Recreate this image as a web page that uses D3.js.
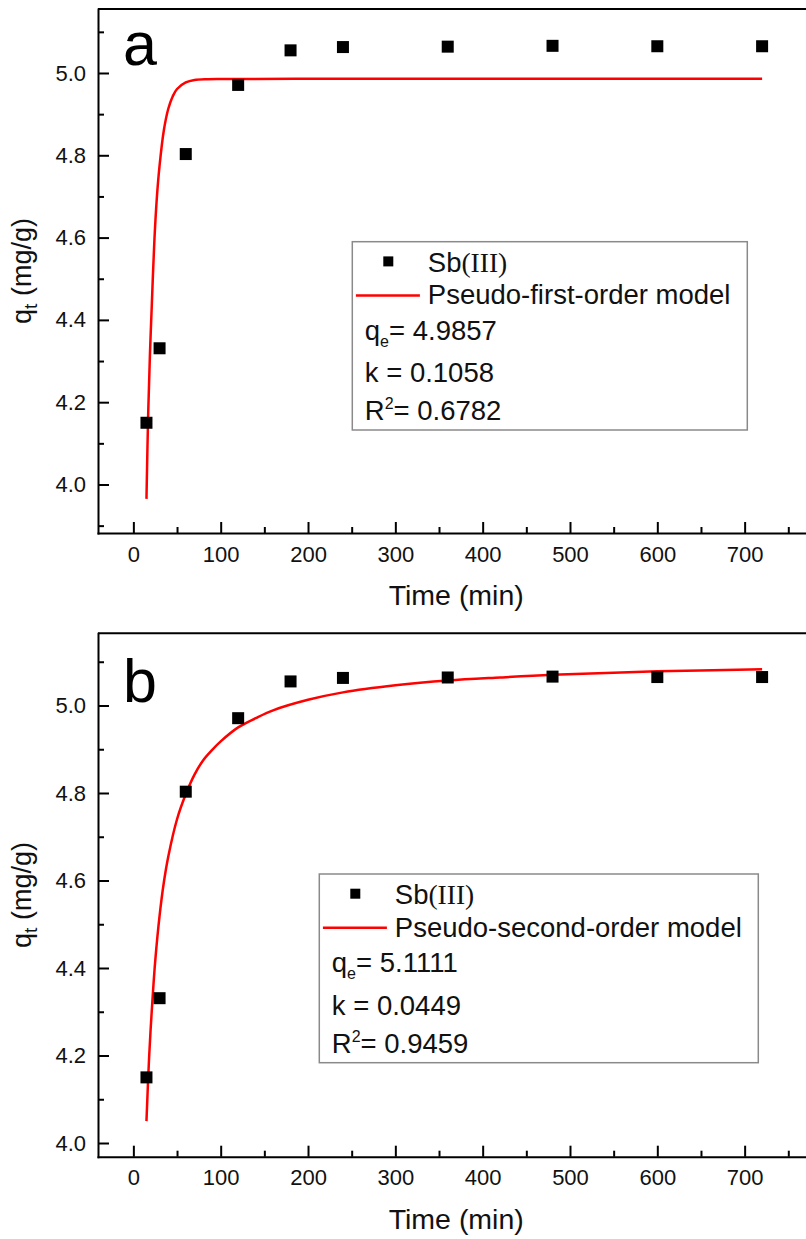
<!DOCTYPE html>
<html>
<head>
<meta charset="utf-8">
<script src="https://cdn.jsdelivr.net/npm/d3@7"></script>
<style>
  html, body { margin: 0; padding: 0; background: #ffffff; }
  svg { display: block; font-family: "Liberation Sans", Arial, sans-serif; }
</style>
</head>
<body>
<svg id="chart" width="806" height="1239"></svg>
<script>
// Sb(III) adsorption kinetics: measured uptake and fitted models
const times = [15, 30, 60, 120, 180, 240, 360, 480, 600, 720];
const qtValues = [4.150, 4.331, 4.803, 4.971, 5.055, 5.063, 5.064, 5.066, 5.065, 5.065];

// fitted curve, pseudo-first-order (panel a)
const firstOrderT = [15, 17, 19, 21, 24, 27, 30, 35, 40, 45, 50, 60, 70, 85, 100, 200, 400, 720];
const firstOrderQ = [3.965, 4.175, 4.318, 4.430, 4.590, 4.700, 4.775, 4.862, 4.913, 4.943, 4.961, 4.977, 4.983, 4.985, 4.9855, 4.9857, 4.9857, 4.9857];

// fitted curve, pseudo-second-order (panel b)
const secondOrderT = [15, 18, 21, 25, 30, 35, 40, 50, 60, 70, 80, 90, 100, 120, 140, 160, 200, 240, 300, 360, 420, 480, 600, 720];
const secondOrderQ = [4.050, 4.195, 4.300, 4.415, 4.519, 4.597, 4.655, 4.740, 4.797, 4.842, 4.875, 4.898, 4.918, 4.950, 4.971, 4.989, 5.013, 5.030, 5.046, 5.057, 5.064, 5.070, 5.078, 5.083];

// axis ticks
const xTicks = [0, 100, 200, 300, 400, 500, 600, 700];
const xMinorTicks = [50, 150, 250, 350, 450, 550, 650, 750];
const yTicks = [4.0, 4.2, 4.4, 4.6, 4.8, 5.0];
const yMinorTicks = [3.9, 4.1, 4.3, 4.5, 4.7, 4.9, 5.1];

// legend text
const panelLetters = ["a", "b"];
const modelNames = ["Pseudo-first-order model", "Pseudo-second-order model"];
const qeLabels = ["4.9857", "5.1111"];
const kLabels = ["0.1058", "0.0449"];
const r2Labels = ["0.6782", "0.9459"];

const svg = d3.select("#chart");

const panels = [
  { top: 9, bottom: 533, yDomain: [3.8821, 5.1555], curveT: firstOrderT, curveQ: firstOrderQ,
    legend: { x: 352.3, y: 241.7, w: 395, h: 188.3 } },
  { top: 633.3, bottom: 1156.7, yDomain: [3.9687, 5.165], curveT: secondOrderT, curveQ: secondOrderQ,
    legend: { x: 319.3, y: 874, w: 439, h: 188.7 } }
];

const LEFT = 98, RIGHT = 814.5;
const xDomain = [-40.5, 780];

panels.forEach((p, i) => {
  const g = svg.append("g");
  const x = d3.scaleLinear().domain(xDomain).range([LEFT, RIGHT]);
  const y = d3.scaleLinear().domain(p.yDomain).range([p.bottom, p.top]);

  // top frame line
  g.append("line")
    .attr("x1", LEFT).attr("x2", 806)
    .attr("y1", p.top).attr("y2", p.top)
    .attr("stroke", "#000").attr("stroke-width", 2);

  // x axis (major + minor)
  g.append("g").attr("transform", `translate(0,${p.bottom})`)
    .call(d3.axisBottom(x).tickValues(xTicks).tickSizeInner(-11).tickSizeOuter(0)
      .tickPadding(13).tickFormat(d3.format("d")));
  g.append("g").attr("transform", `translate(0,${p.bottom})`)
    .call(d3.axisBottom(x).tickValues(xMinorTicks).tickSizeInner(-6).tickSizeOuter(0).tickFormat(""))
    .call(s => s.select(".domain").remove());

  // y axis (major + minor)
  g.append("g").attr("transform", `translate(${LEFT},0)`)
    .call(d3.axisLeft(y).tickValues(yTicks).tickSizeInner(-11).tickSizeOuter(0)
      .tickPadding(12).tickFormat(d3.format(".1f")));
  g.append("g").attr("transform", `translate(${LEFT},0)`)
    .call(d3.axisLeft(y).tickValues(yMinorTicks.filter(v => v >= p.yDomain[0] && v <= p.yDomain[1]))
      .tickSizeInner(-6).tickSizeOuter(0).tickFormat(""))
    .call(s => s.select(".domain").remove());

  g.selectAll(".domain").attr("stroke", "#000").attr("stroke-width", 2).attr("stroke-linecap", "square");
  g.selectAll(".tick line").attr("stroke", "#000").attr("stroke-width", 2);
  g.selectAll(".tick text").attr("font-size", 22).attr("fill", "#111")
    .attr("font-family", "'Liberation Sans', Arial, sans-serif");

  // axis titles
  g.append("text")
    .attr("x", (LEFT + RIGHT) / 2).attr("y", p.bottom + 72)
    .attr("text-anchor", "middle").attr("font-size", 28.5).attr("fill", "#111")
    .text("Time (min)");

  const yl = g.append("text")
    .attr("transform", `translate(31,${(p.top + p.bottom) / 2}) rotate(-90)`)
    .attr("text-anchor", "middle").attr("font-size", 27).attr("fill", "#111");
  yl.append("tspan").text("q");
  yl.append("tspan").attr("font-size", 19).attr("dy", 6).text("t");
  yl.append("tspan").attr("dy", -6).text(" (mg/g)");

  // panel letter
  g.append("text")
    .attr("x", 123).attr("y", i === 0 ? 65 : 701.5)
    .attr("font-size", 61).attr("fill", "#000")
    .text(panelLetters[i]);

  // fitted curve
  const curvePts = p.curveT.map((t, j) => [t, p.curveQ[j]]);
  g.append("path")
    .datum(curvePts)
    .attr("fill", "none").attr("stroke", "#ff0000").attr("stroke-width", 2.5)
    .attr("d", d3.line().x(d => x(d[0])).y(d => y(d[1])).curve(d3.curveCatmullRom.alpha(0.5)));

  // measured points
  g.selectAll("rect.pt")
    .data(times.map((t, j) => [t, qtValues[j]]))
    .join("rect")
    .attr("class", "pt")
    .attr("x", d => x(d[0]) - 6).attr("y", d => y(d[1]) - 6)
    .attr("width", 12).attr("height", 12)
    .attr("fill", "#000");

  // legend
  const L = p.legend;
  const lg = g.append("g").attr("transform", `translate(${L.x},${L.y})`);
  lg.append("rect")
    .attr("x", 0).attr("y", 0).attr("width", L.w).attr("height", L.h)
    .attr("fill", "#fff").attr("stroke", "#8a8a8a").attr("stroke-width", 1.5);
  lg.append("rect")
    .attr("x", 36 - 5).attr("y", 19.7 - 5).attr("width", 10).attr("height", 10).attr("fill", "#000");
  const sb = lg.append("text").attr("x", 75.5).attr("y", 30).attr("font-size", 27.5).attr("fill", "#111");
  sb.append("tspan").text("Sb");
  sb.append("tspan").attr("font-family", "'Liberation Serif', 'Times New Roman', serif").text("(III)");
  lg.append("line")
    .attr("x1", 3.6).attr("x2", 67.6).attr("y1", 53.8).attr("y2", 53.8)
    .attr("stroke", "#ff0000").attr("stroke-width", 2.5);
  lg.append("text").attr("x", 75.5).attr("y", 62.5).attr("font-size", 27.5).attr("fill", "#111")
    .text(modelNames[i]);
  const qe = lg.append("text").attr("x", 12.5).attr("y", 98).attr("font-size", 27.5).attr("fill", "#111");
  qe.append("tspan").text("q");
  qe.append("tspan").attr("font-size", 16).attr("dy", 7).text("e");
  qe.append("tspan").attr("dy", -7).text("= " + qeLabels[i]);
  lg.append("text").attr("x", 12.5).attr("y", 140.5).attr("font-size", 27.5).attr("fill", "#111")
    .text("k = " + kLabels[i]);
  const r2 = lg.append("text").attr("x", 12.5).attr("y", 178.8).attr("font-size", 27.5).attr("fill", "#111");
  r2.append("tspan").text("R");
  r2.append("tspan").attr("font-size", 16).attr("dy", -11).text("2");
  r2.append("tspan").attr("dy", 11).text("= " + r2Labels[i]);
});
</script>
</body>
</html>
